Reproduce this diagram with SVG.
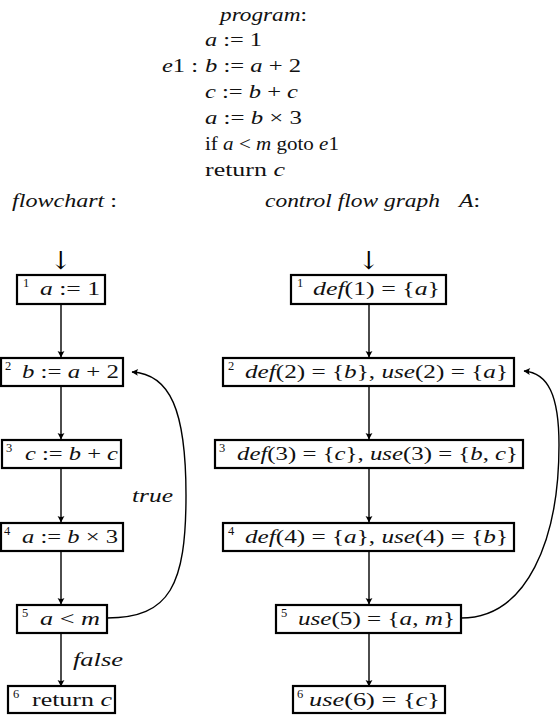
<svg xmlns="http://www.w3.org/2000/svg" width="560" height="715" viewBox="0 0 560 715">
<style>
text{font-family:"Liberation Serif","DejaVu Serif",serif;font-size:18.5px;fill:#111}
.i{font-style:italic}
.sup{font-size:12.5px}
.arr{font-family:"DejaVu Serif",serif;font-size:25px;fill:#000}
.box{fill:#fff;stroke:#000;stroke-width:2.2}
.edge{fill:none;stroke:#000;stroke-width:1.4}
</style>
<defs>
<marker id="ah" markerUnits="userSpaceOnUse" markerWidth="12" markerHeight="12" refX="0" refY="0" viewBox="-8 -6 10 12" orient="auto" overflow="visible">
<path d="M0.5,0 L-6,-3.4 Q-4,0 -6,3.4 Z" fill="#000"/>
</marker>
</defs>

<g id="program">
<text x="220" y="21" textLength="87" lengthAdjust="spacingAndGlyphs"><tspan class="i">program</tspan>:</text>
<text x="205" y="46" textLength="57" lengthAdjust="spacingAndGlyphs"><tspan class="i">a</tspan> := 1</text>
<text x="162" y="72" textLength="36" lengthAdjust="spacingAndGlyphs"><tspan class="i">e</tspan>1 :</text>
<text x="205" y="72" textLength="96" lengthAdjust="spacingAndGlyphs"><tspan class="i">b</tspan> := <tspan class="i">a</tspan> + 2</text>
<text x="205" y="98" textLength="93" lengthAdjust="spacingAndGlyphs"><tspan class="i">c</tspan> := <tspan class="i">b</tspan> + <tspan class="i">c</tspan></text>
<text x="205" y="124" textLength="97" lengthAdjust="spacingAndGlyphs"><tspan class="i">a</tspan> := <tspan class="i">b</tspan> × 3</text>
<text x="205" y="150" textLength="134" lengthAdjust="spacingAndGlyphs">if <tspan class="i">a</tspan> &lt; <tspan class="i">m</tspan> goto <tspan class="i">e</tspan>1</text>
<text x="205" y="176" textLength="80" lengthAdjust="spacingAndGlyphs">return <tspan class="i">c</tspan></text>
</g>

<g id="titles">
<text x="12" y="207" textLength="105" lengthAdjust="spacingAndGlyphs"><tspan class="i">flowchart</tspan> :</text>
<text x="265" y="207" textLength="175" lengthAdjust="spacingAndGlyphs" class="i">control flow graph</text>
<text x="459" y="207" textLength="21" lengthAdjust="spacingAndGlyphs"><tspan class="i">A</tspan>:</text>
<text x="61" y="269" text-anchor="middle" class="arr">↓</text>
<text x="369" y="269" text-anchor="middle" class="arr">↓</text>
</g>

<g id="connectors">
<line class="edge" x1="61" y1="304" x2="61" y2="357" marker-end="url(#ah)"/>
<line class="edge" x1="61" y1="386" x2="61" y2="439" marker-end="url(#ah)"/>
<line class="edge" x1="61" y1="468" x2="61" y2="522" marker-end="url(#ah)"/>
<line class="edge" x1="61" y1="551" x2="61" y2="604" marker-end="url(#ah)"/>
<line class="edge" x1="61" y1="633" x2="61" y2="686" marker-end="url(#ah)"/>
<path class="edge" d="M107,618 C170,618 186,585 186,495 C186,410 170,374 132,372" marker-end="url(#ah)"/>
<line class="edge" x1="369" y1="304" x2="369" y2="357" marker-end="url(#ah)"/>
<line class="edge" x1="369" y1="386" x2="369" y2="439" marker-end="url(#ah)"/>
<line class="edge" x1="369" y1="468" x2="369" y2="522" marker-end="url(#ah)"/>
<line class="edge" x1="369" y1="551" x2="369" y2="604" marker-end="url(#ah)"/>
<line class="edge" x1="369" y1="633" x2="369" y2="686" marker-end="url(#ah)"/>
<path class="edge" d="M461,618 C527,618 559,540 559,445 C559,395 548,373 524,371" marker-end="url(#ah)"/>
<text x="132" y="502" textLength="41" lengthAdjust="spacingAndGlyphs" class="i">true</text>
<text x="73" y="666" textLength="50" lengthAdjust="spacingAndGlyphs" class="i">false</text>
</g>

<g id="f1">
<rect class="box" x="17" y="275" width="88" height="29"/>
<text x="23" y="287" class="sup">1</text>
<text x="40" y="295" textLength="60" lengthAdjust="spacingAndGlyphs"><tspan class="i">a</tspan> := 1</text>
</g>
<g id="f2">
<rect class="box" x="1" y="358" width="122" height="28"/>
<text x="5" y="370" class="sup">2</text>
<text x="22" y="378" textLength="97" lengthAdjust="spacingAndGlyphs"><tspan class="i">b</tspan> := <tspan class="i">a</tspan> + 2</text>
</g>
<g id="f3">
<rect class="box" x="2" y="440" width="119" height="28"/>
<text x="6" y="452" class="sup">3</text>
<text x="25" y="460" textLength="93" lengthAdjust="spacingAndGlyphs"><tspan class="i">c</tspan> := <tspan class="i">b</tspan> + <tspan class="i">c</tspan></text>
</g>
<g id="f4">
<rect class="box" x="1" y="523" width="122" height="28"/>
<text x="4" y="535" class="sup">4</text>
<text x="22" y="543" textLength="96" lengthAdjust="spacingAndGlyphs"><tspan class="i">a</tspan> := <tspan class="i">b</tspan> × 3</text>
</g>
<g id="f5">
<rect class="box" x="17" y="605" width="90" height="28"/>
<text x="22" y="617" class="sup">5</text>
<text x="40" y="625" textLength="60" lengthAdjust="spacingAndGlyphs"><tspan class="i">a</tspan> &lt; <tspan class="i">m</tspan></text>
</g>
<g id="f6">
<rect class="box" x="8" y="686" width="107" height="27"/>
<text x="13" y="698" class="sup">6</text>
<text x="32" y="706" textLength="80" lengthAdjust="spacingAndGlyphs">return <tspan class="i">c</tspan></text>
</g>

<g id="c1">
<rect class="box" x="291" y="275" width="155" height="29"/>
<text x="297" y="287" class="sup">1</text>
<text x="313" y="295" textLength="127" lengthAdjust="spacingAndGlyphs"><tspan class="i">def</tspan>(1) = {<tspan class="i">a</tspan>}</text>
</g>
<g id="c2">
<rect class="box" x="223" y="358" width="291" height="28"/>
<text x="228" y="370" class="sup">2</text>
<text x="245" y="378" textLength="263" lengthAdjust="spacingAndGlyphs"><tspan class="i">def</tspan>(2) = {<tspan class="i">b</tspan>}, <tspan class="i">use</tspan>(2) = {<tspan class="i">a</tspan>}</text>
</g>
<g id="c3">
<rect class="box" x="215" y="440" width="308" height="28"/>
<text x="219" y="452" class="sup">3</text>
<text x="237" y="460" textLength="281" lengthAdjust="spacingAndGlyphs"><tspan class="i">def</tspan>(3) = {<tspan class="i">c</tspan>}, <tspan class="i">use</tspan>(3) = {<tspan class="i">b</tspan>, <tspan class="i">c</tspan>}</text>
</g>
<g id="c4">
<rect class="box" x="223" y="523" width="291" height="28"/>
<text x="228" y="535" class="sup">4</text>
<text x="245" y="543" textLength="263" lengthAdjust="spacingAndGlyphs"><tspan class="i">def</tspan>(4) = {<tspan class="i">a</tspan>}, <tspan class="i">use</tspan>(4) = {<tspan class="i">b</tspan>}</text>
</g>
<g id="c5">
<rect class="box" x="276" y="605" width="185" height="28"/>
<text x="281" y="617" class="sup">5</text>
<text x="298" y="625" textLength="157" lengthAdjust="spacingAndGlyphs"><tspan class="i">use</tspan>(5) = {<tspan class="i">a</tspan>, <tspan class="i">m</tspan>}</text>
</g>
<g id="c6">
<rect class="box" x="293" y="686" width="152" height="27"/>
<text x="297" y="698" class="sup">6</text>
<text x="309" y="706" textLength="131" lengthAdjust="spacingAndGlyphs"><tspan class="i">use</tspan>(6) = {<tspan class="i">c</tspan>}</text>
</g>
</svg>
